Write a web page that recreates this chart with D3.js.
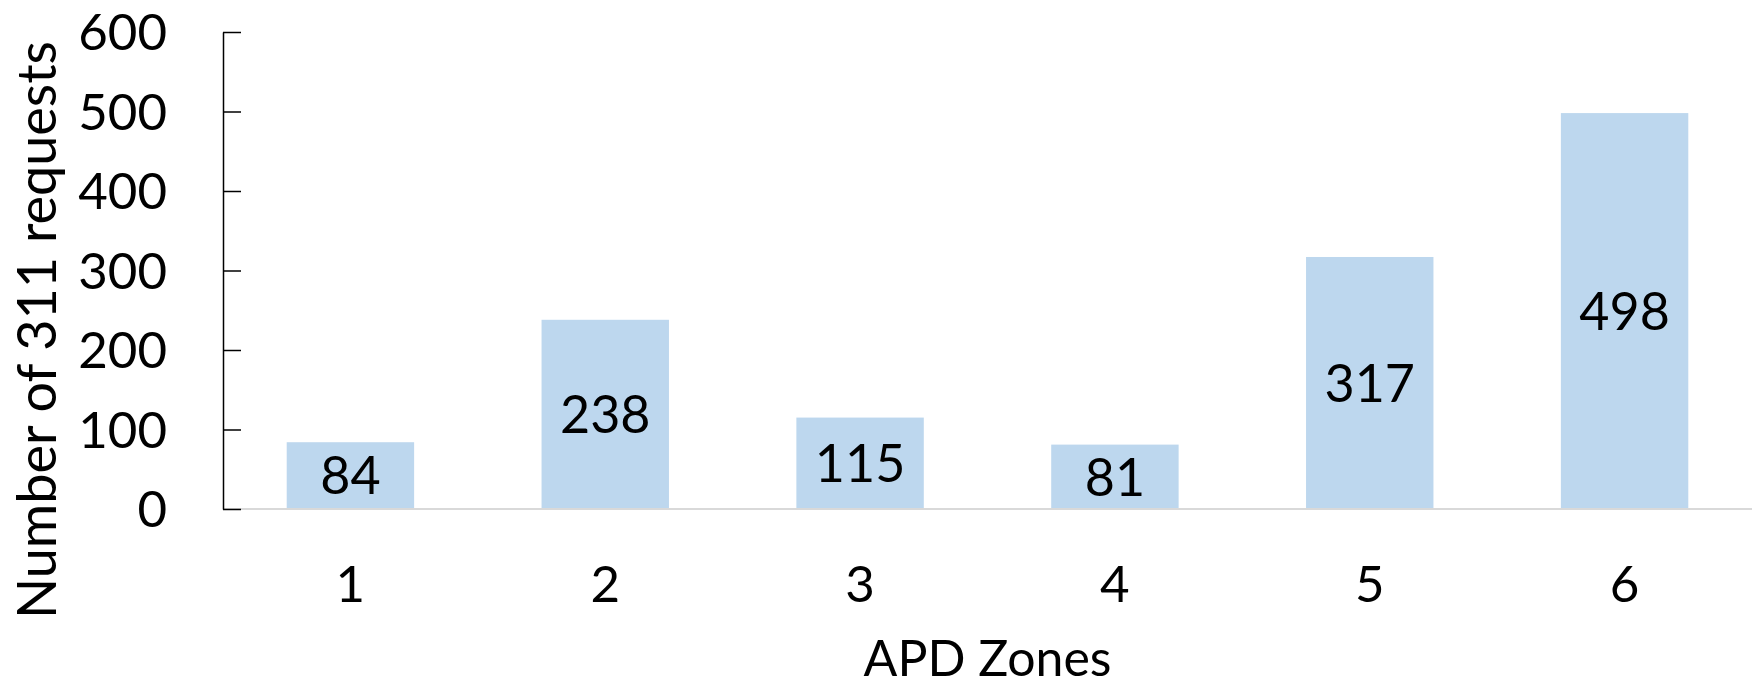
<!DOCTYPE html>
<html>
<head>
<meta charset="utf-8">
<script src="https://cdn.jsdelivr.net/npm/d3@7"></script>
<style>
  body { margin: 0; background: #fff; }
  text { font-family: Lato, "Open Sans", sans-serif; fill: #000; }
</style>
</head>
<body>
<svg id="chart" width="1756" height="689"></svg>
<script>
// data
var zones = ["1", "2", "3", "4", "5", "6"];
var requests = [84, 238, 115, 81, 317, 498];
var yTicks = [0, 100, 200, 300, 400, 500, 600];

var svg = d3.select("#chart"),
  plotLeft = 223, plotRight = 1752, plotTop = 32, plotBottom = 509;

var x = d3.scaleBand().domain(zones).range([plotLeft, plotRight]).paddingInner(0.5).paddingOuter(0.25),
  y = d3.scaleLinear().domain([0, 600]).range([plotBottom, plotTop]);

// bars
svg.selectAll("rect.bar").data(zones).enter().append("rect")
  .attr("class", "bar")
  .attr("x", function (d) { return x(d); })
  .attr("y", function (d, i) { return y(requests[i]); })
  .attr("width", x.bandwidth())
  .attr("height", function (d, i) { return y(0) - y(requests[i]); })
  .attr("fill", "#bdd7ee");

// value labels, centered in each bar
svg.selectAll("text.val").data(zones).enter().append("text")
  .attr("class", "val")
  .attr("x", function (d) { return x(d) + x.bandwidth() / 2; })
  .attr("y", function (d, i) { return (y(requests[i]) + y(0)) / 2; })
  .attr("dy", "0.36em")
  .attr("text-anchor", "middle")
  .style("font-size", "52px")
  .text(function (d, i) { return requests[i]; });

// x baseline
svg.append("line")
  .attr("x1", plotLeft).attr("x2", plotRight)
  .attr("y1", y(0)).attr("y2", y(0))
  .attr("stroke", "#d9d9d9").attr("stroke-width", 2);

// y axis: ticks point into the plot
var yAxis = svg.append("g").attr("transform", "translate(" + plotLeft + ",0)")
  .call(d3.axisRight(y).tickValues(yTicks).tickSize(18).tickSizeOuter(0).tickFormat(""));
yAxis.select(".domain").attr("stroke", "#000").attr("stroke-width", 1.5);
yAxis.selectAll(".tick line").attr("stroke", "#000").attr("stroke-width", 1.5);

svg.selectAll("text.ytick").data(yTicks).enter().append("text")
  .attr("class", "ytick")
  .attr("x", 167)
  .attr("y", function (d) { return y(d); })
  .attr("dy", "0.36em")
  .attr("text-anchor", "end")
  .style("font-size", "51px")
  .text(function (d) { return d; });

// x tick labels
svg.selectAll("text.xtick").data(zones).enter().append("text")
  .attr("class", "xtick")
  .attr("x", function (d) { return x(d) + x.bandwidth() / 2; })
  .attr("y", 584)
  .attr("dy", "0.36em")
  .attr("text-anchor", "middle")
  .style("font-size", "51px")
  .text(function (d) { return d; });

// axis titles
svg.append("text")
  .attr("x", (plotLeft + plotRight) / 2).attr("y", 676)
  .attr("text-anchor", "middle")
  .style("font-size", "50px")
  .text("APD Zones");

svg.append("text")
  .attr("transform", "translate(56,330)rotate(-90)")
  .attr("text-anchor", "middle")
  .style("font-size", "54px")
  .text("Number of 311 requests");
</script>
</body>
</html>
